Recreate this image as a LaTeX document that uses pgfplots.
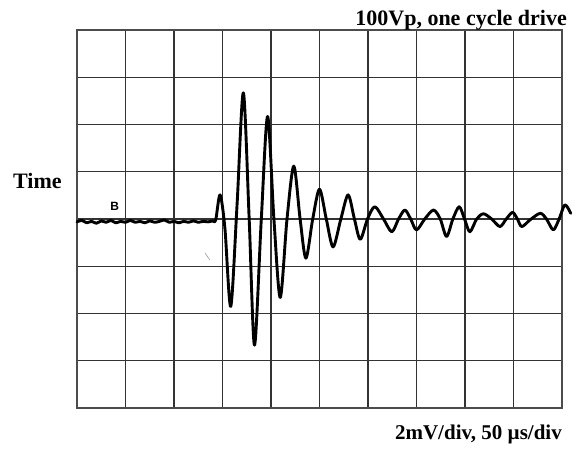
\documentclass[border=0pt]{standalone}
\usepackage{pgfplots}
\pgfplotsset{compat=1.18}
\usepackage{fontspec}
\setmainfont{Liberation Serif}
\setsansfont{Liberation Sans}

\begin{document}
\begin{tikzpicture}
% page frame: 588 x 452, axis box sits at (77,30)-(562,408) px
\path (-77pt,-44pt) rectangle (511pt,408pt);
\begin{axis}[
scale only axis,
width=485pt,
height=378pt,
xmin=0, xmax=10,
ymin=-4, ymax=4,
xtick={0,1,...,10},
ytick={-4,-3,...,4},
xticklabels={}, yticklabels={},
major tick length=0pt,
grid=major,
grid style={black!80, line width=1.2pt},
axis line style={black!70, line width=1.8pt},
clip=false,
]
% scope trace (divisions)
\addplot[black, line width=2.9pt, smooth, tension=0.5, line join=round, line cap=round] coordinates {
(0,-0.06)(0.1,-0.03)(0.2,-0.08)(0.3,-0.05)(0.4,-0.09)(0.5,-0.04)(0.6,-0.07)
(0.7,-0.03)(0.8,-0.08)(0.9,-0.05)(1.0,-0.07)(1.1,-0.03)(1.2,-0.07)(1.3,-0.05)
(1.4,-0.08)(1.5,-0.04)(1.6,-0.07)(1.7,-0.05)(1.8,-0.02)(1.9,-0.07)(2.0,-0.05)
(2.1,-0.08)(2.2,-0.05)(2.3,-0.07)(2.4,-0.04)(2.5,-0.07)(2.6,-0.05)(2.7,-0.06)
(2.8,-0.04)(2.86,-0.02)
(2.95,0.51)(3.05,-0.2)(3.17,-1.85)(3.30,0.3)(3.43,2.67)(3.55,0)(3.66,-2.67)
(3.80,0)(3.93,2.17)(4.06,0)(4.19,-1.66)(4.33,0)(4.47,1.12)(4.60,0)
(4.72,-0.83)(4.86,0)(5.0,0.63)(5.14,0)(5.28,-0.59)(5.44,0)(5.59,0.51)
(5.72,0)(5.84,-0.43)(5.99,0)(6.14,0.26)(6.32,0)(6.49,-0.27)(6.63,0)
(6.76,0.19)(6.88,0)(7.0,-0.23)(7.17,0)(7.35,0.19)(7.49,0)(7.62,-0.37)
(7.75,0)(7.88,0.26)(7.99,0)(8.10,-0.27)(8.24,0)(8.38,0.11)(8.55,0)
(8.72,-0.16)(8.85,0)(8.98,0.14)(9.08,0)(9.17,-0.16)(9.34,-0.02)(9.55,0.12)
(9.68,0)(9.82,-0.23)(9.94,0)(10.06,0.30)(10.18,0.12)
};
% small scratch on the screen
\addplot[black!40, line width=0.6pt] coordinates {(2.64,-0.72)(2.74,-0.87)};
\node[font=\sffamily\bfseries\fontsize{12}{13}\selectfont] at (axis cs:0.78,0.26) {B};
\end{axis}
\node[anchor=base east, font=\bfseries\fontsize{22}{26}\selectfont, inner sep=0pt] at (490pt,382.6pt) {100Vp, one cycle drive};
\node[anchor=base west, font=\bfseries\fontsize{22}{26}\selectfont, inner sep=0pt] at (-64pt,219pt) {Time};
\node[anchor=base east, font=\bfseries\fontsize{21}{25}\selectfont, inner sep=0pt] at (485pt,-31pt) {2mV/div, 50 µs/div};
\end{tikzpicture}
\end{document}
